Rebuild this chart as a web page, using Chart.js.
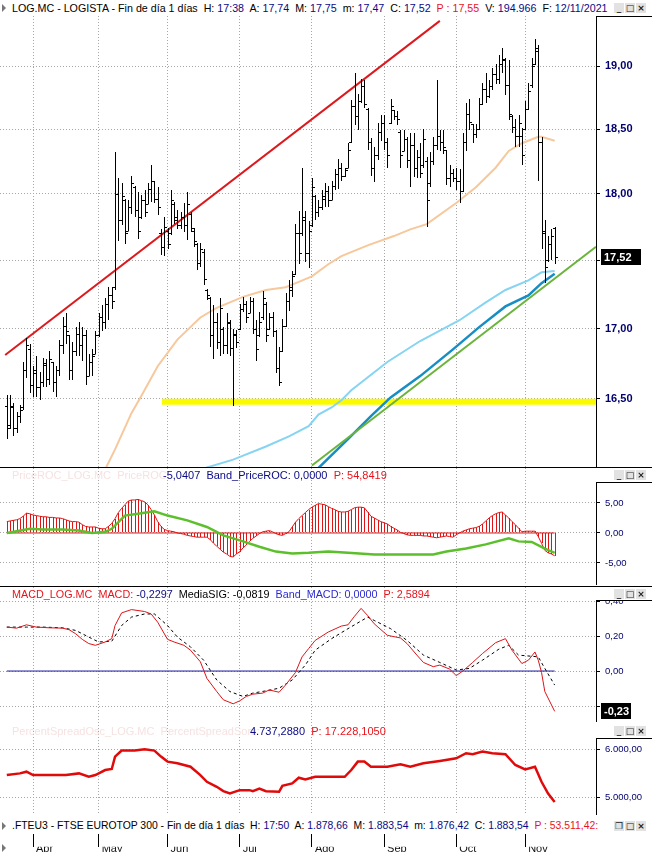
<!DOCTYPE html>
<html>
<head>
<meta charset="utf-8">
<script src="https://cdn.jsdelivr.net/npm/chart.js@4.4.1/dist/chart.umd.min.js"></script>
<style>
  body { margin: 0; background: #fff; }
  #wrap { position: relative; width: 652px; height: 854px; overflow: hidden; font-family: "Liberation Sans", Arial, sans-serif; font-size: 11px; }
  canvas { position: absolute; left: 0; }
  .row { position: absolute; height: 12px; line-height: 12px; white-space: pre; color: #000; }
  .row em { font-style: normal; color: #0a0a84; }
  .row .r, .row .r em { color: #e8141c; }
  .row.f { color: #f6e2e2; }
  .row .b, .row .b em { color: #2b2bd0; }
  .sep { position: absolute; left: 0; width: 652px; height: 1px; background: #000; }
  .box { position: absolute; left: 596px; width: 56px; border-left: 1px solid #000; border-top: 1px solid #000; box-sizing: border-box; }
  .cover { position: absolute; left: 597px; width: 55px; background: #fff; }
  .btns { position: absolute; left: 614px; }
  .btns i { display: inline-block; width: 10px; height: 10px; margin-right: 1px; background: #e2e2e2; color: #222; font: bold 9px "DejaVu Sans", sans-serif; line-height: 10px; text-align: center; font-style: normal; vertical-align: top; }
  .tri { position: absolute; left: 2px; width: 0; height: 0; border-top: 4px solid transparent; border-bottom: 4px solid transparent; border-left: 4px solid #777; }
</style>
</head>
<body>
<div id="wrap">
  <canvas id="cMain" width="652" height="451" style="top:16px"></canvas>
  <canvas id="cRoc" width="652" height="117" style="top:468px"></canvas>
  <canvas id="cMacd" width="652" height="135" style="top:587px"></canvas>
  <canvas id="cSpread" width="652" height="93" style="top:722px"></canvas>
  <canvas id="cAxis" width="652" height="18" style="top:834px"></canvas>

  <div class="box" style="top:16px;height:451px"></div>
  <div class="box" style="top:482px;height:103px"></div>
  <div class="box" style="top:600px;height:122px"></div>
  <div class="box" style="top:738px;height:77px"></div>
  <div class="cover" style="top:468px;height:14px"></div>
  <div class="cover" style="top:587px;height:13px"></div>
  <div class="cover" style="top:722px;height:16px"></div>
  <div class="sep" style="top:467px"></div>
  <div class="sep" style="top:586px"></div>

  <div class="tri" style="top:4px"></div>
  <div class="row" style="top:2px;left:12px;font-size:10.7px">LOG.MC - LOGISTA - Fin de día 1 días  H: <em>17:38</em>  A: <em>17,74</em>  M: <em>17,75</em>  m: <em>17,47</em>  C: <em>17,52</em>  <span class="r">P : 17,55</span>  V: <em>194.966</em>  F: <em>12/11/2021</em></div>
  <div class="btns" style="top:3px"><i>_</i><i>□</i><i>×</i></div>

  <div class="row f" style="top:469px;left:12px">PriceROC_LOG.MC  PriceROC:</div>
  <div class="row" style="top:469px;left:163px"><em>-5,0407  Band_PriceROC: 0,0000</em>  <span class="r">P: 54,8419</span></div>
  <div class="btns" style="top:470px"><i>_</i><i>□</i><i>×</i></div>

  <div class="row" style="top:588px;left:12px;font-size:10.8px"><span class="r">MACD_LOG.MC  MACD:</span> <em>-0,2297</em>  MediaSIG: -0,0819  <span class="b">Band_MACD: 0,0000</span>  <span class="r">P: 2,5894</span></div>
  <div class="btns" style="top:589px"><i>_</i><i>□</i><i>×</i></div>

  <div class="row f" style="top:725px;left:12px">PercentSpreadOsc_LOG.MC  PercentSpreadSom:</div>
  <div class="row" style="top:725px;left:250px"><em>4.737,2880</em>  <span class="r">P: 17.228,1050</span></div>
  <div class="btns" style="top:726px"><i>_</i><i>□</i><i>×</i></div>

  <div class="tri" style="top:822px"></div>
  <div class="row" style="top:820px;left:12px;font-size:10.4px">.FTEU3 - FTSE EUROTOP 300 - Fin de día 1 días  H: <em>17:50</em>  A: <em>1.878,66</em>  M: <em>1.883,54</em>  m: <em>1.876,42</em>  C: <em>1.883,54</em>  <span class="r">P : 53.511,42:</span></div>
  <div class="btns" style="top:821px"><i>❐</i><i>□</i><i>×</i></div>
  <div class="tri" style="top:844px"></div>
</div>

<script>
// ---- data ----
const monthLabels = ['Abr', 'May', 'Jun', 'Jul', 'Ago', 'Sep', 'Oct', 'Nov'];
const monthStart = [8, 28, 49, 71, 93, 115, 137, 158]; // bar index of first session of month

// daily bars 22/03/2021 .. 12/11/2021
const highs = [
  16.53,16.53,16.47,16.41,16.46,16.76,16.93,16.89,16.73,16.80,
  16.69,16.79,16.78,16.84,16.76,16.73,16.92,17.08,17.11,16.95,
  16.90,17.01,17.05,17.01,16.99,16.82,16.85,16.98,17.11,17.17,
  17.22,17.30,17.30,18.32,18.12,18.08,17.96,17.95,18.14,18.06,
  18.01,17.99,18.03,18.08,18.22,18.10,18.05,17.73,17.82,17.74,
  18.03,17.94,17.88,17.86,17.93,18.01,17.86,17.74,17.63,17.63,
  17.58,17.29,17.23,17.17,17.11,17.22,17.01,17.11,17.06,17.00,
  16.99,17.18,17.23,17.20,17.23,17.22,17.06,17.12,17.27,17.19,
  17.11,17.12,16.99,16.87,17.07,17.26,17.35,17.42,17.77,17.87,
  18.20,17.87,17.79,18.12,17.99,17.95,18.03,18.08,18.06,18.10,
  18.19,18.27,18.24,18.20,18.39,18.73,18.95,18.78,18.90,18.89,
  18.67,18.43,18.36,18.55,18.61,18.61,18.43,18.74,18.65,18.64,
  18.49,18.49,18.44,18.47,18.47,18.34,18.39,18.50,18.28,18.32,
  18.44,18.89,18.49,18.49,18.34,18.22,18.19,18.20,18.19,18.47,
  18.71,18.74,18.54,18.54,18.75,18.87,18.95,18.89,18.99,19.02,
  19.09,19.15,19.07,19.05,18.61,18.58,18.61,18.51,18.72,18.87,
  19.07,19.22,19.17,18.44,17.80,17.68,17.73,17.75
];
const lows = [
  16.22,16.29,16.24,16.26,16.33,16.42,16.65,16.54,16.51,16.51,
  16.49,16.58,16.58,16.60,16.55,16.51,16.66,16.82,16.89,16.63,
  16.63,16.80,16.80,16.77,16.60,16.66,16.66,16.82,16.94,16.98,
  17.00,17.06,17.14,17.28,17.64,17.76,17.62,17.72,17.85,17.82,
  17.66,17.81,17.82,17.92,17.94,17.93,17.84,17.54,17.53,17.58,
  17.69,17.77,17.73,17.73,17.71,17.65,17.71,17.60,17.43,17.45,
  17.32,17.21,16.87,16.78,16.85,16.80,16.82,16.82,16.80,16.45,
  16.86,16.99,17.12,17.04,17.11,16.96,16.77,16.94,17.06,16.90,
  16.99,16.94,16.68,16.59,16.83,17.01,17.13,17.23,17.39,17.47,
  17.68,17.49,17.44,17.75,17.80,17.82,17.88,17.90,17.90,17.95,
  18.03,18.04,18.10,18.13,18.20,18.39,18.53,18.49,18.71,18.67,
  18.34,18.14,18.09,18.26,18.41,18.34,18.20,18.54,18.57,18.53,
  18.20,18.33,18.20,18.05,18.13,18.12,18.12,18.20,17.75,18.05,
  18.22,18.34,18.33,18.31,18.07,18.05,18.09,18.03,17.93,18.01,
  18.33,18.49,18.39,18.43,18.49,18.69,18.71,18.75,18.81,18.86,
  18.86,18.95,18.77,18.57,18.47,18.36,18.36,18.22,18.49,18.65,
  18.83,19.01,18.10,17.58,17.33,17.49,17.50,17.47
];
const opens = [
  16.45,16.32,16.44,16.30,16.38,16.44,16.70,16.85,16.60,16.68,
  16.58,16.62,16.74,16.64,16.76,16.62,16.70,16.88,17.02,16.95,
  16.70,16.84,16.96,16.88,16.95,16.66,16.76,16.82,16.95,17.08,
  17.05,17.18,17.24,17.30,18.00,17.80,17.95,17.72,17.90,18.05,
  17.88,17.82,17.95,17.92,18.04,18.10,17.96,17.70,17.60,17.72,
  17.70,17.92,17.80,17.76,17.82,17.76,17.85,17.72,17.62,17.48,
  17.56,17.28,17.22,16.95,17.05,16.90,17.00,16.88,17.04,16.86,
  16.95,17.00,17.14,17.18,17.11,17.20,17.00,16.95,17.08,17.18,
  17.00,17.08,16.98,16.72,16.84,17.02,17.20,17.28,17.40,17.70,
  17.70,17.80,17.55,17.76,17.98,17.86,17.90,17.96,18.02,17.95,
  18.06,18.15,18.20,18.14,18.20,18.40,18.68,18.60,18.72,18.84,
  18.66,18.40,18.20,18.30,18.48,18.55,18.40,18.55,18.65,18.60,
  18.48,18.33,18.42,18.26,18.38,18.20,18.28,18.22,18.25,18.08,
  18.25,18.38,18.45,18.40,18.34,18.12,18.16,18.12,18.10,18.02,
  18.40,18.62,18.54,18.46,18.50,18.70,18.82,18.76,18.84,18.94,
  18.90,19.02,19.05,18.85,18.60,18.52,18.45,18.45,18.50,18.66,
  18.85,19.02,19.12,18.40,17.72,17.50,17.62,17.74
];
const closes = [
  16.30,16.45,16.30,16.38,16.42,16.70,16.88,16.60,16.70,16.58,
  16.62,16.75,16.64,16.78,16.62,16.70,16.88,17.02,16.98,16.70,
  16.84,16.96,16.88,16.95,16.66,16.76,16.80,16.95,17.08,17.05,
  17.18,17.24,17.20,18.00,17.80,17.98,17.70,17.90,18.08,17.88,
  17.72,17.95,17.86,18.04,18.10,17.96,17.90,17.60,17.75,17.62,
  17.95,17.82,17.76,17.82,17.76,17.92,17.74,17.64,17.48,17.58,
  17.36,17.24,16.95,17.05,16.90,17.15,16.88,17.05,16.86,16.96,
  16.90,17.14,17.18,17.08,17.20,17.00,16.85,17.05,17.22,16.95,
  17.08,16.98,16.72,16.62,17.02,17.20,17.30,17.38,17.70,17.55,
  17.82,17.55,17.72,18.05,17.86,17.90,17.98,18.02,17.95,18.06,
  18.15,18.20,18.14,18.18,18.34,18.68,18.60,18.72,18.84,18.70,
  18.40,18.20,18.30,18.48,18.55,18.40,18.30,18.68,18.60,18.58,
  18.30,18.42,18.26,18.38,18.20,18.28,18.16,18.42,17.95,18.25,
  18.38,18.45,18.40,18.36,18.12,18.16,18.12,18.10,18.02,18.40,
  18.62,18.56,18.46,18.50,18.70,18.82,18.76,18.84,18.94,18.90,
  19.02,19.06,18.85,18.62,18.52,18.45,18.55,18.30,18.66,18.80,
  19.00,19.15,18.40,17.70,17.45,17.62,17.68,17.52
];
const lastPrice = 17.52;
const priceTicks = [16.5, 17, 17.5, 18, 18.5, 19];

// moving averages drawn on the price panel
const maTanIdx = [29, 33, 38, 41, 46, 52, 59, 64, 72, 79, 85, 89, 93, 98, 102, 110, 118, 123, 128, 137, 143, 149, 153, 157, 162, 163, 167];
const maTanVal = [15.97, 16.15, 16.40, 16.52, 16.73, 16.92, 17.08, 17.15, 17.23, 17.28, 17.30, 17.34, 17.38, 17.47, 17.53, 17.61, 17.68, 17.73, 17.77, 17.93, 18.05, 18.20, 18.33, 18.39, 18.44, 18.44, 18.41];
const maSkyIdx = [60, 69, 79, 86, 92, 95, 99, 102, 105, 116, 126, 138, 146, 152, 159, 163, 167];
const maSkyVal = [16.02, 16.08, 16.17, 16.24, 16.31, 16.39, 16.44, 16.49, 16.56, 16.76, 16.91, 17.06, 17.19, 17.28, 17.35, 17.41, 17.42];
const maBlueIdx = [93, 104, 111, 117, 126, 136, 144, 152, 159, 163, 167];
const maBlueVal = [15.98, 16.22, 16.38, 16.51, 16.66, 16.85, 17.01, 17.16, 17.24, 17.33, 17.40];

// drawn trend lines and support
const trendRedIdx = [-0.5, 132];
const trendRedVal = [16.81, 19.37];
const trendGreenIdx = [93, 179.6];
const trendGreenVal = [16.04, 17.60];
const supportIdx = [47.3, 179.6];
const supportVal = [16.48, 16.48];

// PriceROC panel
const rocHist = [
  1.9,2.0,2.1,2.2,2.4,2.8,3.3,3.2,3.0,2.9,
  2.8,2.7,2.7,2.6,2.6,2.5,2.5,2.4,2.2,2.0,
  1.9,1.9,1.8,1.4,1.1,1.0,1.0,1.0,0.8,0.7,
  0.7,1.1,1.6,2.4,3.4,4.1,4.7,5.3,5.5,5.5,
  5.6,5.4,5.2,4.7,3.9,3.0,1.9,1.1,0.6,0.4,
  0.3,0.2,0.0,-0.1,-0.2,-0.4,-0.5,-0.6,-0.7,-0.7,
  -0.7,-0.7,-1.1,-1.7,-2.2,-2.7,-3.2,-3.5,-3.9,-4.0,
  -3.5,-3.1,-2.5,-2.0,-1.4,-0.9,-0.5,-0.1,0.2,0.3,
  0.4,0.2,-0.1,-0.3,-0.4,-0.1,0.2,1.0,1.8,2.4,
  2.9,3.4,3.9,4.3,4.6,4.9,4.8,4.7,4.4,4.1,
  3.9,3.6,3.5,3.5,3.6,3.9,4.2,4.3,4.3,4.2,
  3.5,2.8,2.5,2.2,1.9,1.7,1.5,1.1,0.8,0.5,
  0.1,-0.1,-0.3,-0.4,-0.4,-0.4,-0.4,-0.5,-0.5,-0.6,
  -0.7,-0.8,-0.7,-0.6,-0.5,-0.6,-0.7,-0.3,0.0,0.3,
  0.5,0.7,0.8,0.9,1.1,1.5,2.0,2.5,2.9,3.2,
  3.4,3.5,3.0,2.5,1.9,1.4,0.8,0.2,0.3,0.3,
  0.3,0.3,-0.6,-1.7,-2.9,-3.3,-3.5,-3.8
];
const rocSigIdx = [0, 3, 7, 11, 17, 22, 26, 30, 32, 36, 40, 45, 49, 55, 61, 66, 72, 77, 82, 87, 92, 98, 104, 112, 120, 130, 134, 140, 146, 153, 156, 160, 164, 167];
const rocSigVal = [0, 0.3, 0.7, 0.6, 0.6, 0.4, 0, 0.2, 0.7, 2.9, 3.2, 3.6, 2.9, 2.1, 1.0, -0.4, -1.4, -2.3, -3.1, -3.4, -3.3, -3.1, -3.3, -3.6, -3.6, -3.6, -3.1, -2.6, -1.9, -0.9, -1.4, -1.5, -2.6, -3.3];
const rocBandIdx = [0, 167];
const rocBandVal = [0, 0];
const rocTicks = [-5, 0, 5];

// MACD panel
const macdIdx = [0, 3, 6, 9, 13, 17, 19, 21, 23, 25, 27, 30, 32, 33, 35, 38, 42, 44, 46, 49, 51, 54, 56, 59, 61, 64, 66, 69, 71, 73, 75, 78, 80, 83, 85, 88, 90, 92, 94, 98, 102, 104, 106, 108, 110, 112, 116, 120, 122, 125, 127, 130, 132, 135, 137, 139, 142, 145, 149, 152, 154, 157, 159, 161, 162, 163, 164, 167];
const macdVal = [0.251, 0.245, 0.264, 0.251, 0.247, 0.245, 0.236, 0.213, 0.181, 0.157, 0.147, 0.166, 0.185, 0.26, 0.332, 0.351, 0.34, 0.326, 0.279, 0.181, 0.166, 0.147, 0.119, 0.053, -0.042, -0.117, -0.164, -0.187, -0.17, -0.145, -0.132, -0.126, -0.108, -0.121, -0.079, -0.008, 0.081, 0.128, 0.175, 0.223, 0.257, 0.264, 0.313, 0.358, 0.317, 0.27, 0.204, 0.189, 0.157, 0.091, 0.049, 0.025, 0.034, 0.011, -0.026, 0.0, 0.049, 0.1, 0.162, 0.185, 0.119, 0.043, 0.062, 0.109, 0.062, -0.008, -0.117, -0.23];
const sigIdx = [0, 6, 11, 17, 21, 25, 28, 32, 35, 38, 42, 45, 49, 52, 56, 60, 64, 68, 72, 75, 79, 83, 87, 91, 94, 99, 104, 110, 112, 117, 122, 127, 132, 137, 141, 145, 150, 153, 156, 162, 164, 167];
const sigVal = [0.251, 0.251, 0.251, 0.247, 0.232, 0.194, 0.166, 0.17, 0.26, 0.308, 0.326, 0.326, 0.26, 0.194, 0.138, 0.062, -0.051, -0.117, -0.145, -0.126, -0.113, -0.098, -0.051, 0.034, 0.119, 0.185, 0.242, 0.308, 0.289, 0.242, 0.175, 0.091, 0.049, 0.006, 0.015, 0.062, 0.125, 0.147, 0.091, 0.081, 0.015, -0.08];
const macdBandIdx = [0, 167];
const macdBandVal = [0, 0];
const lastMacd = -0.23;
const macdTicks = [-0.2, 0, 0.2, 0.4];

// PercentSpread panel
const spreadIdx = [0, 4, 6, 8, 13, 18, 22, 25, 27, 30, 32, 33, 35, 39, 42, 45, 47, 49, 52, 56, 59, 61, 64, 66, 68, 71, 74, 75, 77, 79, 83, 84, 87, 89, 91, 94, 99, 103, 105, 107, 109, 111, 116, 120, 123, 127, 132, 137, 140, 142, 145, 148, 152, 155, 158, 161, 163, 165, 167];
const spreadVal = [5469, 5503, 5538, 5469, 5469, 5469, 5503, 5434, 5469, 5572, 5593, 5848, 5972, 5972, 6000, 5972, 5848, 5745, 5710, 5641, 5469, 5331, 5228, 5138, 5090, 5159, 5159, 5138, 5193, 5138, 5124, 5248, 5297, 5414, 5379, 5434, 5434, 5434, 5572, 5745, 5745, 5641, 5641, 5690, 5641, 5710, 5759, 5814, 5917, 5897, 5952, 5917, 5897, 5676, 5586, 5641, 5331, 5090, 4917];
const spreadTicks = [5000, 6000];

// ---- helpers ----
const NAVY = '#00006e';
const GRID = '#a6a6a6';
const FONT = '"Liberation Sans", Arial, sans-serif';
const X_MIN = -2.07, X_MAX = 179.6;

const fmt2 = v => v.toFixed(2).replace('.', ',');
const fmtK = v => {
  const p = v.toFixed(2).split('.');
  return p[0].replace(/\B(?=(\d{3})+(?!\d))/g, '.') + ',' + p[1];
};
const pts = (xs, ys) => xs.map((x, i) => ({ x, y: ys[i] }));
const seq = ys => ys.map((y, i) => ({ x: i, y }));

function xAxis() {
  return {
    type: 'linear', min: X_MIN, max: X_MAX, bounds: 'data', offset: false,
    afterBuildTicks: a => { a.ticks = monthStart.map(v => ({ value: v })); },
    ticks: { display: false },
    grid: { color: GRID, drawTicks: false, offset: false },
    border: { display: false, dash: [1, 2] }
  };
}

function yAxis(type, min, max, tickVals, fmt, font) {
  return {
    type, min, max, bounds: 'data', position: 'right',
    afterBuildTicks: a => { a.ticks = tickVals.map(v => ({ value: v })); },
    afterFit: s => { s.width = 56; s.paddingTop = 0; s.paddingBottom = 0; },
    ticks: { color: NAVY, padding: 5, font, callback: v => fmt(v) },
    grid: { color: GRID, tickColor: '#000', tickLength: 4 },
    border: { display: false, dash: [1, 2] }
  };
}

function line(data, color, width, order, extra) {
  return Object.assign({ type: 'line', data, borderColor: color, borderWidth: width, pointRadius: 0, tension: 0, fill: false, order }, extra || {});
}

// 1px bars drawn crisp from the bar elements that Chart.js lays out
const crispBars = {
  id: 'crispBars',
  afterDatasetDraw(chart, args) {
    const ds = chart.data.datasets[args.index];
    if (!ds.lineColor) return;
    const { ctx, chartArea: a } = chart;
    const y = chart.scales.y;
    ctx.save();
    ctx.beginPath(); ctx.rect(a.left, a.top, a.width, a.height); ctx.clip();
    ctx.strokeStyle = ds.lineColor; ctx.lineWidth = 1;
    ctx.beginPath();
    args.meta.data.forEach((el, i) => {
      const x = Math.round(el.x) + 0.5;
      ctx.moveTo(x, Math.round(el.y)); ctx.lineTo(x, Math.round(el.base));
      if (ds.opens) {
        const yo = Math.round(y.getPixelForValue(ds.opens[i])) + 0.5;
        const yc = Math.round(y.getPixelForValue(ds.closes[i])) + 0.5;
        ctx.moveTo(x - 2.5, yo); ctx.lineTo(x, yo);
        ctx.moveTo(x, yc); ctx.lineTo(x + 2.5, yc);
      }
    });
    ctx.stroke();
    ctx.restore();
  }
};

function valueBox(id, val, w) {
  return {
    id,
    afterDraw(chart) {
      const ctx = chart.ctx;
      const py = Math.round(chart.scales.y.getPixelForValue(val));
      const px = chart.chartArea.right + 5;
      ctx.save();
      ctx.fillStyle = '#000';
      ctx.fillRect(px, py - 8, w, 16);
      ctx.fillStyle = '#fff';
      ctx.font = 'bold 11px ' + FONT;
      ctx.textBaseline = 'middle';
      ctx.fillText(fmt2(val), px + 3, py + 1);
      ctx.restore();
    }
  };
}

function panel(id, yCfg, datasets, extra) {
  return new Chart(document.getElementById(id), {
    type: 'line',
    data: { datasets },
    options: {
      responsive: false, animation: false, devicePixelRatio: 1,
      layout: { padding: 0 },
      plugins: { legend: { display: false }, tooltip: { enabled: false } },
      scales: { x: xAxis(), y: yCfg }
    },
    plugins: [crispBars].concat(extra || [])
  });
}

// ---- price panel ----
panel('cMain',
  yAxis('logarithmic', 16.03, 19.41, priceTicks, fmt2, { family: FONT, size: 11, weight: 'bold' }),
  [
    { type: 'bar', data: highs.map((h, i) => ({ x: i, y: [lows[i], h] })), backgroundColor: 'rgba(0,0,0,0)', barThickness: 1, lineColor: '#000', opens, closes, order: 0 },
    line(pts(trendRedIdx, trendRedVal), '#dc1a1e', 2, 1),
    line(pts(trendGreenIdx, trendGreenVal), '#6ab43c', 2, 2),
    line(pts(maTanIdx, maTanVal), '#f6c89c', 2, 3),
    line(pts(maBlueIdx, maBlueVal), '#168ec4', 2.5, 4),
    line(pts(maSkyIdx, maSkyVal), '#86d4f2', 2, 5),
    line(pts(supportIdx, supportVal), '#fbfb00', 6, 9, { borderCapStyle: 'butt' })
  ],
  [valueBox('lastBox', lastPrice, 40)]
);

// ---- PriceROC panel ----
panel('cRoc',
  yAxis('linear', -8.67, 10.83, rocTicks, fmt2, { family: FONT, size: 9.5 }),
  [
    line(pts(rocSigIdx, rocSigVal), '#5cbf2c', 2.5, 0),
    line(seq(rocHist), '#e01414', 1, 1),
    line(pts(rocBandIdx, rocBandVal), '#e01414', 1, 2),
    { type: 'bar', data: seq(rocHist), backgroundColor: 'rgba(0,0,0,0)', barThickness: 1, lineColor: '#e01414', order: 3 }
  ]
);

// ---- MACD panel ----
panel('cMacd',
  yAxis('linear', -0.291, 0.48, macdTicks, fmt2, { family: FONT, size: 9.5 }),
  [
    line(pts(macdIdx, macdVal), '#dc1418', 1, 0),
    line(pts(sigIdx, sigVal), '#000', 1, 1, { borderDash: [3, 3] }),
    line(pts(macdBandIdx, macdBandVal), '#1a1aa0', 1, 2)
  ],
  [valueBox('macdBox', lastMacd, 30)]
);

// ---- PercentSpread panel ----
panel('cSpread',
  yAxis('linear', 4648, 6559, spreadTicks, fmtK, { family: FONT, size: 9.5 }),
  [line(pts(spreadIdx, spreadVal), '#e00a0a', 2.5, 0)]
);

// ---- month axis ----
new Chart(document.getElementById('cAxis'), {
  type: 'line',
  data: { datasets: [] },
  options: {
    responsive: false, animation: false, devicePixelRatio: 1,
    layout: { padding: { left: 0, right: 56, top: 0, bottom: 0 } },
    plugins: { legend: { display: false }, tooltip: { enabled: false } },
    scales: {
      x: {
        type: 'linear', min: X_MIN, max: X_MAX, bounds: 'data',
        afterBuildTicks: a => { a.ticks = monthStart.map(v => ({ value: v })); },
        afterFit: s => { s.paddingLeft = 0; s.paddingRight = 0; },
        ticks: { align: 'start', labelOffset: 3, padding: -4, autoSkip: false, maxRotation: 0, color: '#111', font: { family: FONT, size: 11 }, callback: (v, i) => monthLabels[i] },
        grid: { color: '#000', drawTicks: false },
        border: { display: false }
      },
      y: { display: false, min: 0, max: 1 }
    }
  }
});
</script>
</body>
</html>
